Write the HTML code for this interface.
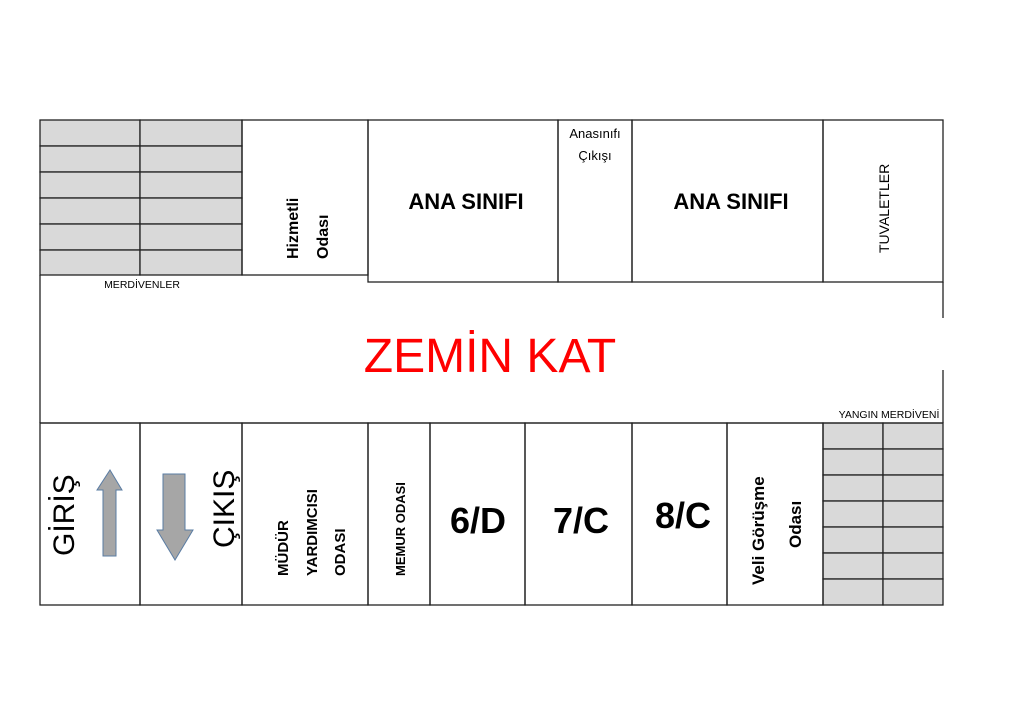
<!DOCTYPE html>
<html><head><meta charset="utf-8"><style>body{margin:0;background:#fff}svg{display:block}text{font-family:"Liberation Sans","DejaVu Sans",sans-serif}</style></head>
<body>
<svg width="1024" height="723" viewBox="0 0 1024 723" xmlns="http://www.w3.org/2000/svg">
<g fill="#d9d9d9" stroke="#222" stroke-width="1.3">
<rect x="40" y="120" width="100" height="26"/><rect x="140" y="120" width="102" height="26"/>
<rect x="40" y="146" width="100" height="26"/><rect x="140" y="146" width="102" height="26"/>
<rect x="40" y="172" width="100" height="26"/><rect x="140" y="172" width="102" height="26"/>
<rect x="40" y="198" width="100" height="26"/><rect x="140" y="198" width="102" height="26"/>
<rect x="40" y="224" width="100" height="26"/><rect x="140" y="224" width="102" height="26"/>
<rect x="40" y="250" width="100" height="25"/><rect x="140" y="250" width="102" height="25"/>
<rect x="823" y="423" width="60" height="26"/><rect x="883" y="423" width="60" height="26"/>
<rect x="823" y="449" width="60" height="26"/><rect x="883" y="449" width="60" height="26"/>
<rect x="823" y="475" width="60" height="26"/><rect x="883" y="475" width="60" height="26"/>
<rect x="823" y="501" width="60" height="26"/><rect x="883" y="501" width="60" height="26"/>
<rect x="823" y="527" width="60" height="26"/><rect x="883" y="527" width="60" height="26"/>
<rect x="823" y="553" width="60" height="26"/><rect x="883" y="553" width="60" height="26"/>
<rect x="823" y="579" width="60" height="26"/><rect x="883" y="579" width="60" height="26"/>
</g>
<g fill="none" stroke="#222" stroke-width="1.3">
<rect x="242" y="120" width="126" height="155"/>
<rect x="368" y="120" width="190" height="162"/>
<rect x="558" y="120" width="74" height="162"/>
<rect x="632" y="120" width="191" height="162"/>
<rect x="823" y="120" width="120" height="162"/>
<polyline points="943,282 943,318"/>
<polyline points="943,370 943,423"/>
<polyline points="40,275 40,423"/>
<polyline points="40,423 943,423"/>
<rect x="40" y="423" width="100" height="182"/>
<rect x="140" y="423" width="102" height="182"/>
<rect x="242" y="423" width="126" height="182"/>
<rect x="368" y="423" width="62" height="182"/>
<rect x="430" y="423" width="95" height="182"/>
<rect x="525" y="423" width="107" height="182"/>
<rect x="632" y="423" width="95" height="182"/>
<rect x="727" y="423" width="96" height="182"/>
</g>
<polygon points="110,470 122,490 116,490 116,556 103,556 103,490 97,490" fill="#a6a6a6" stroke="#5a7ca3" stroke-width="1"/>
<polygon points="163,474 185,474 185,530 193,530 175,560 157,530 163,530" fill="#a6a6a6" stroke="#5a7ca3" stroke-width="1"/>
<g fill="#000">
<text transform="translate(74,556) rotate(-90)" font-size="30">GİRİŞ</text>
<text transform="translate(234,548) rotate(-90)" font-size="30">ÇIKIŞ</text>
<text transform="translate(298,259) rotate(-90)" font-size="16" font-weight="bold">Hizmetli</text>
<text transform="translate(328,259) rotate(-90)" font-size="16" font-weight="bold">Odası</text>
<text transform="translate(288,576) rotate(-90)" font-size="15" font-weight="bold">MÜDÜR</text>
<text transform="translate(317,576) rotate(-90)" font-size="15" font-weight="bold">YARDIMCISI</text>
<text transform="translate(345,576) rotate(-90)" font-size="15" font-weight="bold">ODASI</text>
<text transform="translate(405,576) rotate(-90)" font-size="13" font-weight="bold">MEMUR ODASI</text>
<text x="478" y="533" font-size="36" font-weight="bold" text-anchor="middle">6/D</text>
<text x="581" y="533" font-size="36" font-weight="bold" text-anchor="middle">7/C</text>
<text x="683" y="528" font-size="36" font-weight="bold" text-anchor="middle">8/C</text>
<text transform="translate(764,585) rotate(-90)" font-size="17" font-weight="bold">Veli Görüşme</text>
<text transform="translate(801,548) rotate(-90)" font-size="17" font-weight="bold">Odası</text>
<text x="466" y="209" font-size="22" font-weight="bold" text-anchor="middle">ANA SINIFI</text>
<text x="731" y="209" font-size="22" font-weight="bold" text-anchor="middle">ANA SINIFI</text>
<text x="595" y="138" font-size="13" text-anchor="middle">Anasınıfı</text>
<text x="595" y="160" font-size="13" text-anchor="middle">Çıkışı</text>
<text transform="translate(889,253) rotate(-90)" font-size="14">TUVALETLER</text>
<text x="142" y="288" font-size="10.5" text-anchor="middle">MERDİVENLER</text>
<text x="889" y="418" font-size="10.5" text-anchor="middle">YANGIN MERDİVENİ</text>
</g>
<text x="490" y="372" font-size="48" fill="#ff0000" text-anchor="middle">ZEMİN KAT</text>
</svg>
</body></html>
